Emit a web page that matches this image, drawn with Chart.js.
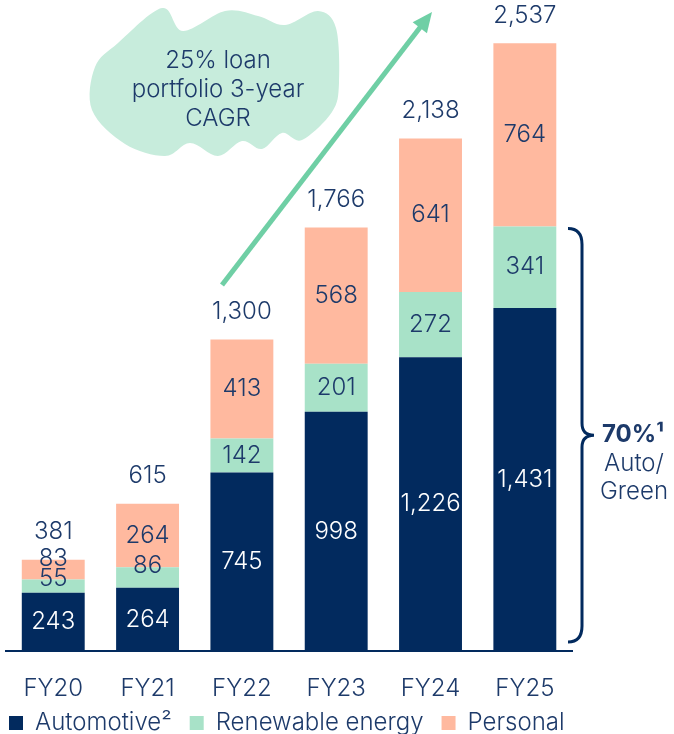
<!DOCTYPE html>
<html>
<head>
<meta charset="utf-8">
<script src="https://cdn.jsdelivr.net/npm/chart.js@4.4.1/dist/chart.umd.min.js"></script>
<style>
html,body{margin:0;padding:0;background:#fff;}
#wrap{width:674px;height:734px;}
</style>
</head>
<body>
<div id="wrap"><canvas id="c" width="674" height="734"></canvas></div>
<script>
const categories = ['FY20','FY21','FY22','FY23','FY24','FY25'];
const automotive = [243, 264, 745, 998, 1226, 1431];
const renewable = [55, 86, 142, 201, 272, 341];
const personal = [83, 264, 413, 568, 641, 764];
const totals = [381, 615, 1300, 1766, 2138, 2537];
const seriesNames = ['Automotive\u00B2', 'Renewable energy', 'Personal'];
const cloudLines = ['25% loan', 'portfolio 3-year', 'CAGR'];
const braceLines = ['70%\u00B9', 'Auto/', 'Green'];

const NAVY = '#022a5e';
const GREEN = '#a8e2c8';
const SALMON = '#ffb99f';
const TEXT = '#1d3a6a';
const FONT = 'Inter, "Open Sans", sans-serif';
const FS = 24;

function fmt(v){ return v.toLocaleString('en-US'); }

const labelPlugin = {
  id: 'valueLabels',
  afterDatasetsDraw(chart){
    const ctx = chart.ctx;
    ctx.save();
    ctx.font = '300 ' + FS + 'px ' + FONT;
    ctx.textAlign = 'center';
    ctx.textBaseline = 'middle';
    chart.data.datasets.forEach((ds, di) => {
      const meta = chart.getDatasetMeta(di);
      meta.data.forEach((bar, i) => {
        const top = Math.min(bar.y, bar.base), bottom = Math.max(bar.y, bar.base);
        const h = bottom - top;
        let y = (top + bottom) / 2;
        if (h < 22) y = top - 1;
        ctx.fillStyle = di === 0 ? '#ffffff' : TEXT;
        ctx.fillText(fmt(ds.data[i]), bar.x, y);
      });
    });
    const lastMeta = chart.getDatasetMeta(chart.data.datasets.length - 1);
    ctx.fillStyle = TEXT;
    lastMeta.data.forEach((bar, i) => {
      ctx.fillText(fmt(totals[i]), bar.x, Math.min(bar.y, bar.base) - 28);
    });
    ctx.restore();
  }
};

function smoothClosed(ctx, pts){
  const n = pts.length;
  ctx.beginPath();
  ctx.moveTo(pts[0][0], pts[0][1]);
  for (let i = 0; i < n; i++){
    const p0 = pts[(i - 1 + n) % n], p1 = pts[i], p2 = pts[(i + 1) % n], p3 = pts[(i + 2) % n];
    const c1x = p1[0] + (p2[0] - p0[0]) / 6, c1y = p1[1] + (p2[1] - p0[1]) / 6;
    const c2x = p2[0] - (p3[0] - p1[0]) / 6, c2y = p2[1] - (p3[1] - p1[1]) / 6;
    ctx.bezierCurveTo(c1x, c1y, c2x, c2y, p2[0], p2[1]);
  }
  ctx.closePath();
}

const annotPlugin = {
  id: 'annot',
  afterLayout(chart){
    const lg = chart.legend;
    if (lg) { lg.left -= 14; lg.right -= 14; lg.top -= 20; lg.bottom -= 20; }
  },
  afterDatasetsDraw(chart){
    const ctx = chart.ctx;
    const ys = chart.scales.y;
    ctx.save();
    // cloud
    ctx.fillStyle = '#c7ecdc';
    const cloud = [
      [118,43],[162,8],[183,31],[225,11],[258,16],[285,25],[318,11],[336,28],
      [339,83],[332,112],[302,140],[282,133],[262,149],[242,141],[218,156],
      [190,143],[165,156],[125,144],[92,110],[95,67]
    ];
    smoothClosed(ctx, cloud);
    ctx.fill();
    ctx.fillStyle = TEXT;
    ctx.font = '300 ' + FS + 'px ' + FONT;
    ctx.textAlign = 'center';
    ctx.textBaseline = 'middle';
    cloudLines.forEach((t, k) => ctx.fillText(t, 218, 61 + k * 29));

    // arrow
    const x0 = 222, y0 = 285, x1 = 432, y1 = 12;
    const ang = Math.atan2(y1 - y0, x1 - x0);
    ctx.strokeStyle = '#6fcfa5';
    ctx.fillStyle = '#6fcfa5';
    ctx.lineWidth = 5;
    ctx.beginPath();
    ctx.moveTo(x0, y0);
    ctx.lineTo(x1 - 14*Math.cos(ang), y1 - 14*Math.sin(ang));
    ctx.stroke();
    ctx.beginPath();
    ctx.moveTo(x1, y1);
    ctx.lineTo(x1 - 20*Math.cos(ang) + 9*Math.sin(ang), y1 - 20*Math.sin(ang) - 9*Math.cos(ang));
    ctx.lineTo(x1 - 20*Math.cos(ang) - 9*Math.sin(ang), y1 - 20*Math.sin(ang) + 9*Math.cos(ang));
    ctx.closePath();
    ctx.fill();

    // brace
    const last = automotive.length - 1;
    const bTop = ys.getPixelForValue(automotive[last] + renewable[last]) + 2;
    const bBot = ys.getPixelForValue(0) - 9;
    const mid = (bTop + bBot) / 2;
    const xl = 568, xv = 582, xt = 594;
    ctx.strokeStyle = NAVY;
    ctx.lineWidth = 3;
    ctx.beginPath();
    ctx.moveTo(xl, bTop);
    ctx.quadraticCurveTo(xv, bTop, xv, bTop + 16);
    ctx.lineTo(xv, mid - 12);
    ctx.quadraticCurveTo(xv, mid, xt, mid);
    ctx.quadraticCurveTo(xv, mid, xv, mid + 12);
    ctx.lineTo(xv, bBot - 16);
    ctx.quadraticCurveTo(xv, bBot, xl, bBot);
    ctx.stroke();

    ctx.fillStyle = TEXT;
    ctx.textAlign = 'center';
    ctx.font = 'bold ' + FS + 'px ' + FONT;
    ctx.fillText(braceLines[0], 633, mid);
    ctx.font = '300 ' + FS + 'px ' + FONT;
    ctx.fillText(braceLines[1], 634, mid + 29);
    ctx.fillText(braceLines[2], 634, mid + 57);
    ctx.restore();
  }
};

new Chart(document.getElementById('c'), {
  type: 'bar',
  data: {
    labels: categories,
    datasets: [
      { label: seriesNames[0], data: automotive, backgroundColor: NAVY, borderWidth: 0 },
      { label: seriesNames[1], data: renewable, backgroundColor: GREEN, borderWidth: 0 },
      { label: seriesNames[2], data: personal, backgroundColor: SALMON, borderWidth: 0 }
    ]
  },
  options: {
    responsive: false,
    animation: false,
    devicePixelRatio: 1,
    categoryPercentage: 1,
    barPercentage: 0.667,
    layout: { padding: { left: 5, right: 5, top: 4, bottom: -31 } },
    scales: {
      x: {
        stacked: true,
        grid: { display: false, drawTicks: false },
        border: { color: NAVY, width: 2 },
        ticks: { color: TEXT, font: { family: FONT, size: FS, weight: 300 }, padding: 23 },
        afterFit(scale){ scale.height = 62; }
      },
      y: {
        stacked: true, position: 'right', min: 0, max: 2700,
        grid: { display: false, drawTicks: false },
        border: { display: false },
        ticks: { display: false },
        afterFit(scale){ scale.width = 97; }
      }
    },
    plugins: {
      tooltip: { enabled: false },
      legend: {
        position: 'bottom',
        align: 'start',
        labels: { boxWidth: 14, boxHeight: 14, color: TEXT, font: { family: FONT, size: FS, weight: 300 }, padding: 18 }
      }
    }
  },
  plugins: [labelPlugin, annotPlugin]
});
</script>
</body>
</html>
